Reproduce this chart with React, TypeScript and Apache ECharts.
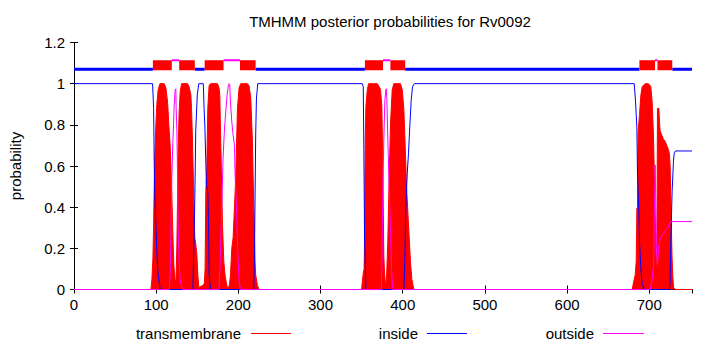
import React, { useEffect, useRef } from "react";
import * as echarts from "echarts";

const titleText = "TMHMM posterior probabilities for Rv0092";
const seqLength = 752;
const seriesNames = ["transmembrane", "inside", "outside"];
const seriesColors = ["#ff0000", "#0000ff", "#ff00ff"];

// posterior probability of transmembrane helix, [residue, probability]
const transmembrane: [number, number][] = [
  [0, 0], [93.6, 0], [94.8, 0.05], [96.0, 0.15], [96.8, 0.3], [97.6, 0.5], [98.4, 0.65], [99.6, 0.8],
  [100.8, 0.9], [102.4, 0.97], [104.5, 1], [109.7, 1], [111.8, 0.98], [113.9, 0.91], [115.4, 0.8],
  [117.0, 0.7], [117.9, 0.6], [119.1, 0.45], [120.3, 0.27], [121.5, 0.12], [122.7, 0.05], [123.9, 0.04],
  [124.5, 0.1], [125.2, 0.22], [126.0, 0.44], [126.7, 0.68], [127.9, 0.86], [129.2, 0.96], [130.9, 1],
  [138.2, 1], [140.1, 0.985], [142.2, 0.945], [143.0, 0.88], [144.2, 0.72], [145.4, 0.51], [146.2, 0.35],
  [147.0, 0.25], [148.2, 0.22], [149.5, 0.17], [150.7, 0.07], [151.9, 0.01], [156.7, 0.02], [158.6, 0.03],
  [159.5, 0.1], [160.4, 0.475], [161.6, 0.59], [162.8, 0.88], [164.4, 0.99], [166.1, 1], [174.6, 1],
  [176.5, 0.98], [177.4, 0.945], [178.6, 0.72], [179.8, 0.475], [180.7, 0.31], [182.3, 0.135],
  [183.8, 0.07], [185.5, 0.03], [187.1, 0], [189.0, 0.02], [190.4, 0.07], [192.0, 0.2], [193.6, 0.25],
  [195.3, 0.4], [196.8, 0.55], [198.9, 0.88], [200.9, 0.98], [202.9, 1], [211.1, 1], [213.0, 0.99],
  [215.1, 0.93], [217.1, 0.72], [217.9, 0.56], [219.1, 0.35], [220.3, 0.135], [221.1, 0.07],
  [223.2, 0.02], [225.2, 0], [349.9, 0], [352.0, 0.08], [353.0, 0.1], [353.6, 0.24], [354.4, 0.727],
  [355.2, 0.89], [356.9, 0.97], [358.4, 1], [369.0, 1], [371.4, 0.985], [373.0, 0.97], [374.6, 0.89],
  [375.5, 0.68], [376.3, 0.4], [377.0, 0.16], [377.9, 0.08], [379.1, 0.02], [380.3, 0.05], [381.9, 0.24],
  [383.6, 0.565], [385.2, 0.81], [387.2, 0.97], [389.2, 1], [397.3, 1], [399.4, 0.97], [401.3, 0.88],
  [403.0, 0.7], [404.6, 0.5], [406.2, 0.38], [407.9, 0.25], [409.5, 0.13], [411.1, 0.05], [413.5, 0],
  [679.2, 0], [681.7, 0.05], [682.9, 0.07], [684.1, 0.135], [684.9, 0.395], [685.7, 0.4], [686.5, 0.767],
  [688.1, 0.85], [689.8, 0.945], [691.4, 0.986], [695.0, 1], [699.0, 1], [701.9, 0.986], [703.5, 0.913],
  [705.1, 0.75], [706.0, 0.59], [706.8, 0.427], [707.5, 0.313], [708.4, 0.135], [709.2, 0.1],
  [710.0, 0.88], [711.7, 0.88], [712.4, 0.82], [713.2, 0.77], [715.3, 0.75], [717.2, 0.73],
  [719.3, 0.72], [721.3, 0.7], [723.3, 0.68], [724.5, 0.66], [725.4, 0.6], [726.2, 0.44], [726.9, 0.3],
  [727.8, 0.15], [728.7, 0.06], [729.6, 0.01], [731.5, 0], [752, 0],
];

// posterior probability of inside
const inside: [number, number][] = [
  [0, 1], [95.6, 1], [96.9, 0.88], [97.6, 0.615], [98.4, 0.445], [99.7, 0.31], [100.9, 0.17],
  [102.4, 0.07], [104.9, 0], [144.6, 0], [146.2, 0.26], [147.0, 0.445], [148.2, 0.78], [150.1, 0.95],
  [151.9, 1], [157.3, 1], [158.3, 0.88], [159.2, 0.8], [160.4, 0.62], [161.2, 0.51], [162.8, 0.475],
  [163.7, 0.33], [164.4, 0.07], [166.1, 0], [218.7, 0], [219.6, 0.15], [220.3, 0.45], [221.1, 0.75],
  [222.0, 0.93], [223.6, 1], [350.8, 1], [352.0, 0.986], [352.7, 0.68], [353.6, 0.24], [355.2, 0],
  [401.3, 0], [402.2, 0.08], [403.8, 0.4], [405.5, 0.565], [407.0, 0.66], [408.6, 0.79], [410.3, 0.92],
  [411.9, 0.985], [414.3, 1], [681.7, 1], [683.2, 0.92], [684.9, 0.79], [685.7, 0.557], [687.4, 0.362],
  [688.1, 0.232], [689.8, 0.1], [691.4, 0.02], [695.0, 0], [724.5, 0], [725.4, 0.04], [726.2, 0.23],
  [727.8, 0.475], [729.4, 0.62], [730.3, 0.66], [731.8, 0.673], [752, 0.673],
];

// posterior probability of outside
const outside: [number, number][] = [
  [0, 0], [116.0, 0], [117.0, 0.07], [117.9, 0.25], [119.1, 0.557], [120.3, 0.72], [121.1, 0.8],
  [121.9, 0.897], [123.1, 0.97], [123.9, 0.975], [124.3, 0.88], [125.2, 0.77], [126.0, 0.557],
  [126.7, 0.313], [127.9, 0.135], [129.2, 0.04], [132.1, 0], [176.5, 0], [177.8, 0.135], [179.8, 0.4],
  [181.4, 0.64], [183.1, 0.78], [184.7, 0.865], [186.3, 0.945], [188.0, 0.995], [188.7, 1.0],
  [189.5, 0.995], [190.4, 0.91], [192.0, 0.815], [193.6, 0.75], [195.3, 0.7], [196.0, 0.557],
  [197.7, 0.4], [199.3, 0.18], [200.9, 0.04], [202.6, 0], [373.9, 0], [374.6, 0.11], [375.8, 0.484],
  [377.0, 0.727], [378.3, 0.92], [379.5, 0.97], [380.0, 0.975], [380.7, 0.92], [381.9, 0.727],
  [383.6, 0.484], [385.2, 0.275], [386.4, 0.11], [387.6, 0], [701.1, 0], [703.5, 0.05], [705.3, 0.12],
  [706.3, 0.4], [707.2, 0.605], [708.0, 0.4], [708.7, 0.2], [710.0, 0.12], [711.4, 0.2], [713.2, 0.25],
  [716.9, 0.27], [720.5, 0.29], [723.0, 0.3], [724.8, 0.32], [726.0, 0.33], [752, 0.33],
];

// predicted topology (top bar): residue ranges
const tmSegments: [number, number][] = [
  [96, 119], [128, 147], [159, 182], [202, 221], [354, 376], [385, 403], [688, 707], [710, 728],
];
const insideSegments: [number, number][] = [[0, 96], [147, 159], [221, 354], [403, 688], [728, 752]];
const outsideSegments: [number, number][] = [[119, 128], [182, 202], [376, 385], [707, 710]];
const tmBarLevel = 1.09;
const insideBarLevel = 1.07;
const outsideBarLevel = 1.114;

const FONT = "'Liberation Sans', Arial, Helvetica, sans-serif";

function segmentsToLine(segs: [number, number][], level: number) {
  const out: any[] = [];
  segs.forEach(([a, b]) => {
    out.push([a, level], [b, level], [b, null]);
  });
  return out;
}

export default function App() {
  const ref = useRef<HTMLDivElement>(null);
  useEffect(() => {
    if (!ref.current) return;
    const chart = echarts.init(ref.current, undefined, { renderer: "svg" });
    const axisCommon = {
      type: "value" as const,
      axisLine: { show: true, lineStyle: { color: "#000", width: 1 } },
      axisTick: { show: true, inside: true, length: 4, lineStyle: { color: "#000", width: 1 } },
      splitLine: { show: false },
    };
    const legendY = 333;
    const legendText = (x: number, text: string) => ({
      type: "text",
      x,
      y: legendY,
      style: { text, align: "right", verticalAlign: "middle", fontSize: 15, fontFamily: FONT, fill: "#000" },
    });
    const legendLine = (x1: number, x2: number, color: string) => ({
      type: "line",
      shape: { x1, y1: legendY + 0.5, x2, y2: legendY + 0.5 },
      style: { stroke: color, lineWidth: 1 },
    });
    chart.setOption({
      animation: false,
      backgroundColor: "#fff",
      textStyle: { fontFamily: FONT },
      title: {
        text: titleText,
        left: 385,
        top: 9,
        textAlign: "center",
        textStyle: { fontSize: 15, fontWeight: "normal", color: "#000", fontFamily: FONT },
      },
      grid: { left: 73, right: 18, top: 42.5, bottom: 60.5, containLabel: false },
      xAxis: [
        {
          ...axisCommon,
          position: "bottom",
          min: 0,
          max: seqLength,
          interval: 100,
          axisLabel: { color: "#000", fontSize: 15, fontFamily: FONT, margin: 7, showMaxLabel: false },
        },
        {
          ...axisCommon,
          position: "top",
          min: 0,
          max: seqLength,
          interval: 100,
          axisLabel: { show: false },
        },
      ],
      yAxis: [
        {
          ...axisCommon,
          position: "left",
          min: 0,
          max: 1.2,
          interval: 0.2,
          name: "probability",
          nameLocation: "middle",
          nameGap: 51,
          nameTextStyle: { color: "#000", fontSize: 15, fontFamily: FONT },
          axisLabel: { color: "#000", fontSize: 15, fontFamily: FONT, margin: 9 },
        },
        {
          ...axisCommon,
          position: "right",
          min: 0,
          max: 1.2,
          interval: 0.2,
          axisLabel: { show: false },
        },
      ],
      graphic: [
        legendText(241, seriesNames[0]),
        legendLine(251, 291, seriesColors[0]),
        legendText(418, seriesNames[1]),
        legendLine(427, 467, seriesColors[1]),
        legendText(594, seriesNames[2]),
        legendLine(603, 644, seriesColors[2]),
      ],
      series: [
        {
          name: seriesNames[0],
          type: "line",
          data: transmembrane,
          symbol: "none",
          lineStyle: { color: seriesColors[0], width: 1 },
          areaStyle: { color: seriesColors[0], opacity: 1 },
          z: 2,
        },
        {
          name: seriesNames[1],
          type: "line",
          data: inside,
          symbol: "none",
          lineStyle: { color: seriesColors[1], width: 1 },
          z: 3,
        },
        {
          name: seriesNames[2],
          type: "line",
          data: outside,
          symbol: "none",
          lineStyle: { color: seriesColors[2], width: 1 },
          z: 4,
        },
        {
          name: "inside topology",
          type: "line",
          data: segmentsToLine(insideSegments, insideBarLevel),
          symbol: "none",
          connectNulls: false,
          lineStyle: { color: seriesColors[1], width: 3, cap: "butt" },
          z: 5,
        },
        {
          name: "outside topology",
          type: "line",
          data: segmentsToLine(outsideSegments, outsideBarLevel),
          symbol: "none",
          connectNulls: false,
          lineStyle: { color: seriesColors[2], width: 2, cap: "butt" },
          z: 5,
        },
        {
          name: "transmembrane topology",
          type: "line",
          data: segmentsToLine(tmSegments, tmBarLevel),
          symbol: "none",
          connectNulls: false,
          lineStyle: { color: seriesColors[0], width: 10, cap: "butt" },
          z: 6,
        },
      ],
    });
    return () => chart.dispose();
  }, []);
  return (
    <div
      ref={ref}
      style={{ position: "fixed", left: 0, top: 0, width: 710, height: 350, background: "#fff" }}
    />
  );
}
